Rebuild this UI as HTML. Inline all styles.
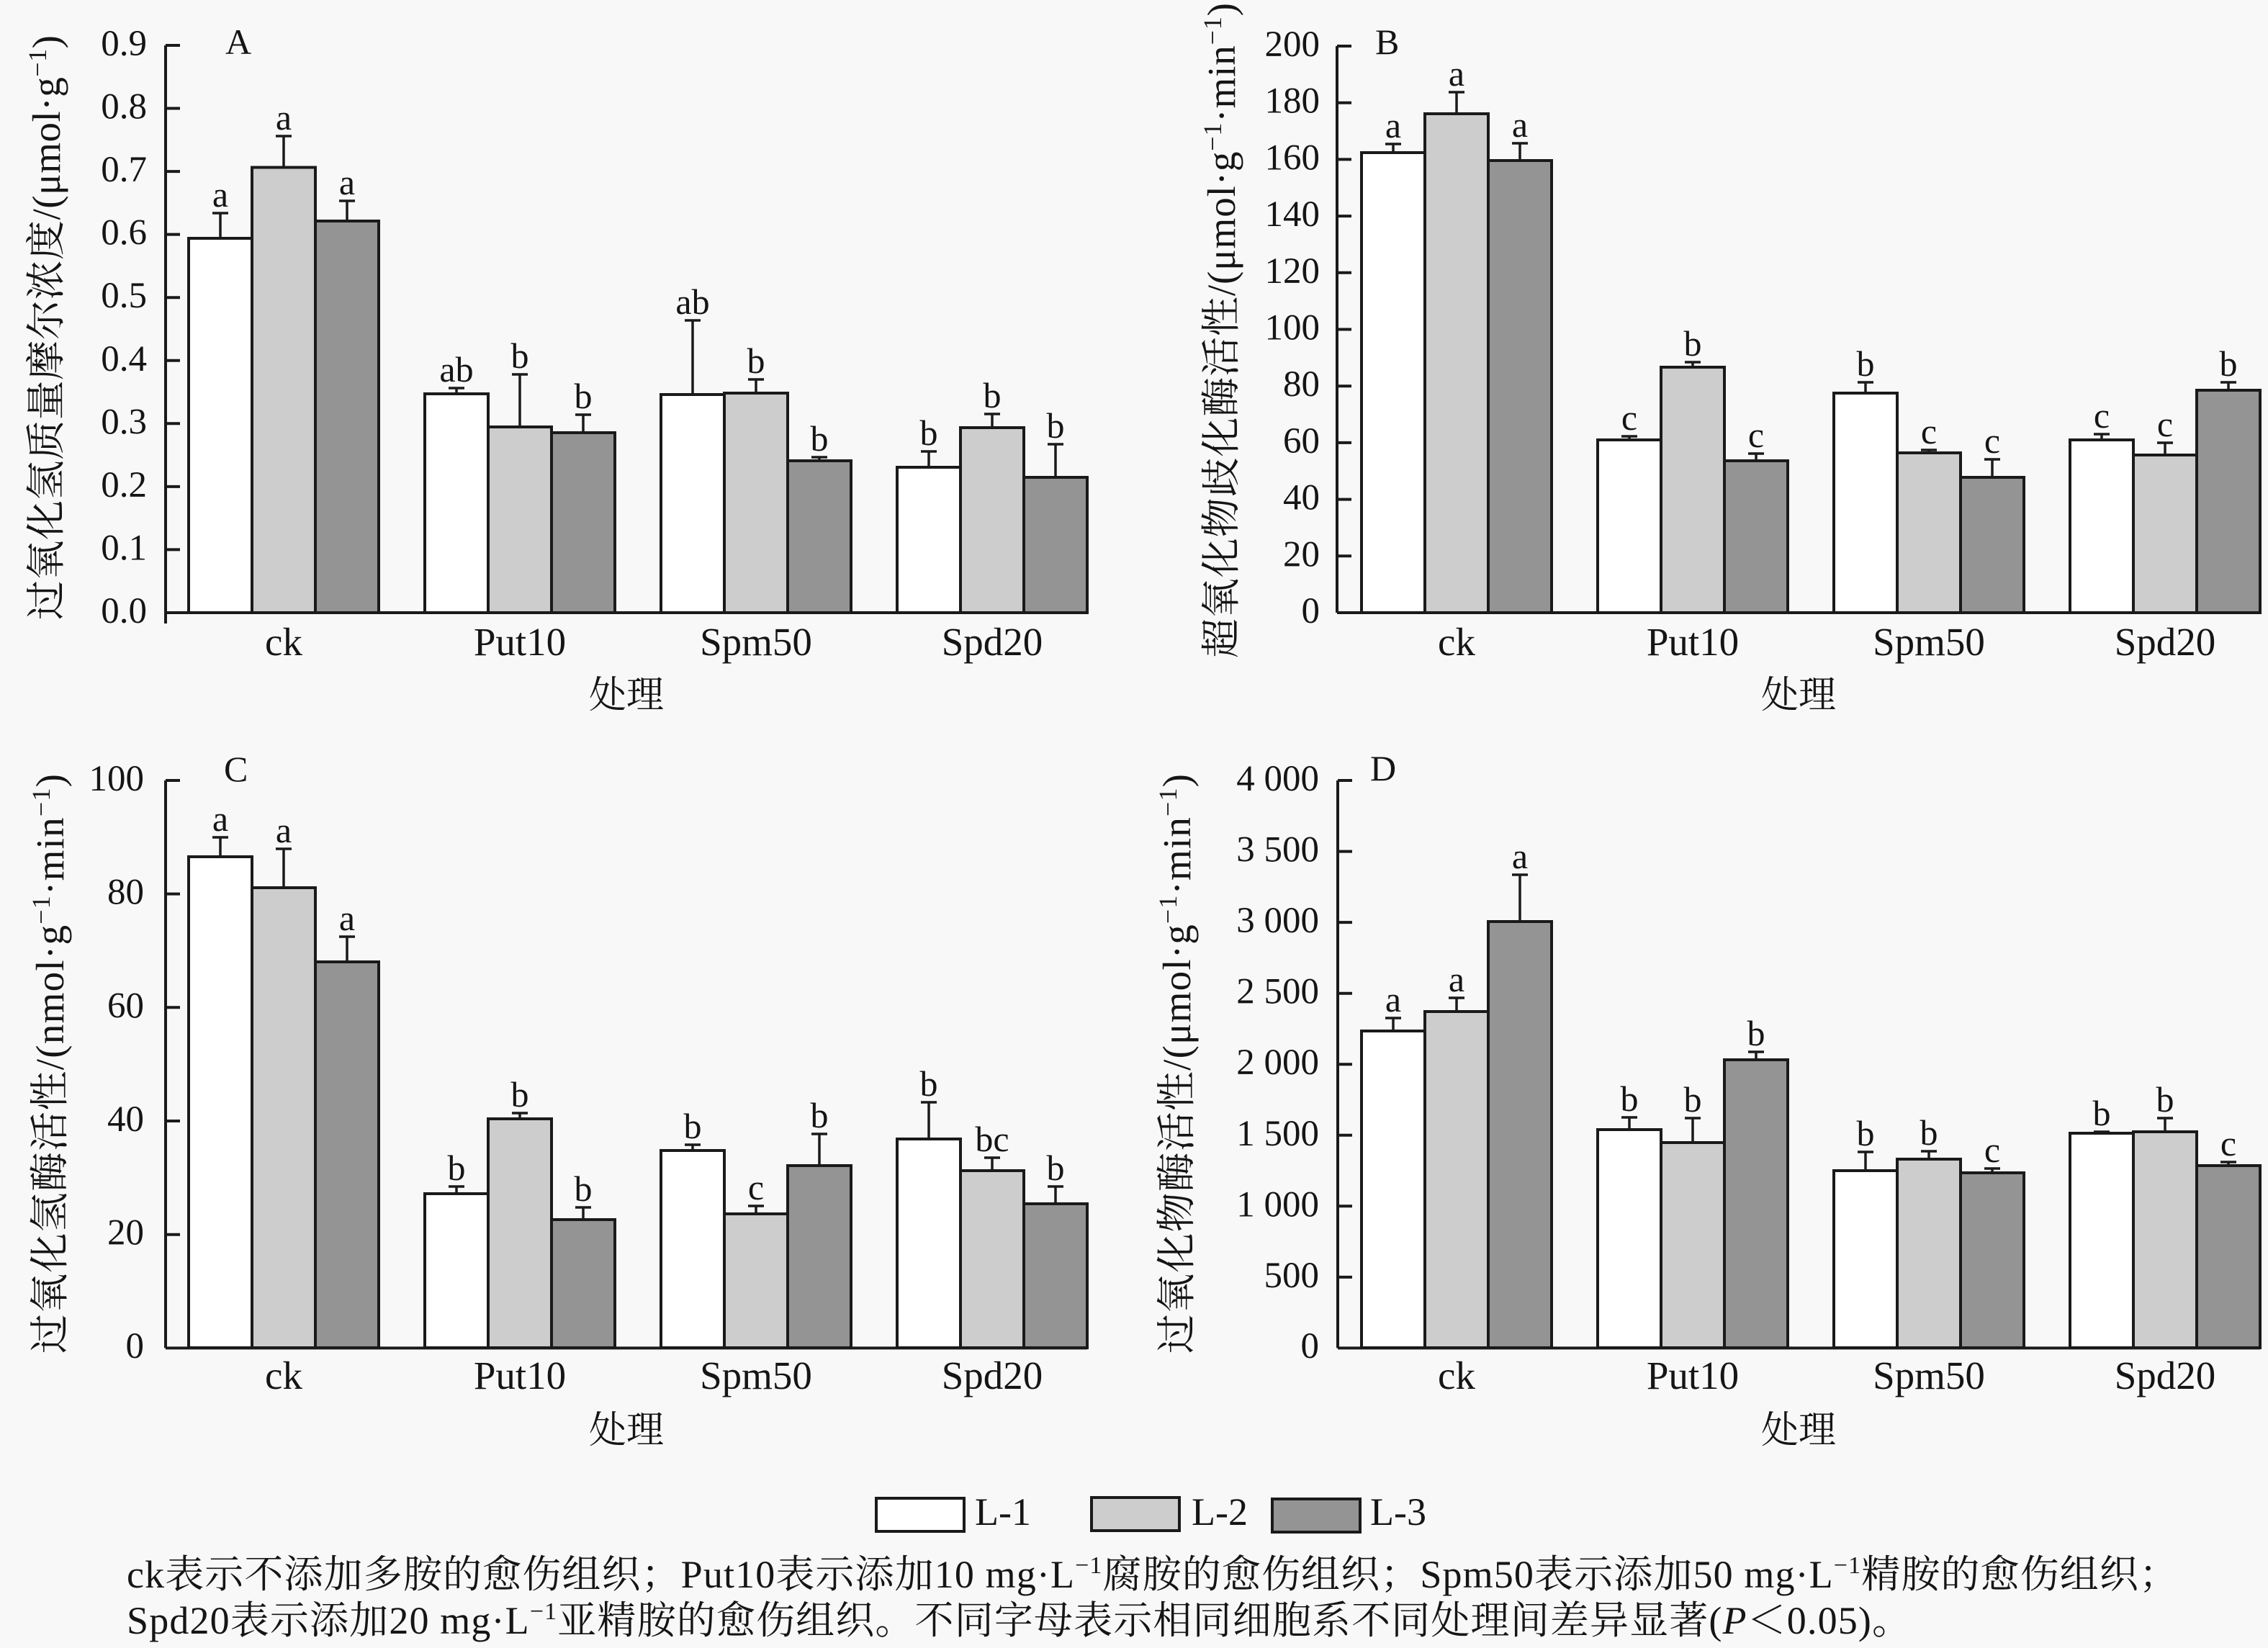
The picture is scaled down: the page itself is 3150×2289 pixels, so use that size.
<!DOCTYPE html>
<html><head><meta charset="utf-8"><style>
html,body{margin:0;padding:0;background:#f8f8f8;}
svg{display:block;}
text{font-family:"Liberation Serif","Noto Serif CJK SC",serif;fill:#151515;}
.tk{font-size:51px;text-anchor:end;}
.cat{font-size:55px;text-anchor:middle;}
.xl{font-size:52px;text-anchor:middle;}
.lt{font-size:50px;text-anchor:middle;}
.ti{font-size:50px;}
.yl{font-size:55px;}
.cap{font-size:54px;}
.w{fill:#ffffff;stroke:#1a1a1a;stroke-width:4;}
.l{fill:#cdcdcd;stroke:#1a1a1a;stroke-width:4;}
.d{fill:#949494;stroke:#1a1a1a;stroke-width:4;}
.ax{stroke:#1a1a1a;stroke-width:4;fill:none;}
.e{stroke:#1a1a1a;stroke-width:3.5;fill:none;}
</style></head><body>
<svg width="3150" height="2289" viewBox="0 0 3150 2289" xmlns="http://www.w3.org/2000/svg">
<rect x="0" y="0" width="3150" height="2289" fill="#f8f8f8"/>

<!-- ================= PANEL A ================= -->
<g>
<rect class="w" x="262" y="331" width="88" height="520"/>
<rect class="l" x="350" y="232.5" width="88" height="618.5"/>
<rect class="d" x="438" y="307" width="88" height="544"/>
<rect class="w" x="590" y="547" width="88" height="304"/>
<rect class="l" x="678" y="593" width="88" height="258"/>
<rect class="d" x="766" y="601" width="88" height="250"/>
<rect class="w" x="918" y="548" width="88" height="303"/>
<rect class="l" x="1006" y="546" width="88" height="305"/>
<rect class="d" x="1094" y="640" width="88" height="211"/>
<rect class="w" x="1246" y="649" width="88" height="202"/>
<rect class="l" x="1334" y="594" width="88" height="257"/>
<rect class="d" x="1422" y="663" width="88" height="188"/>
<path class="e" d="M306 331V296M295 296H317 M394 232V189M383 189H405 M482 307V279M471 279H493 M634 547V539M623 539H645 M722 593V520M711 520H733 M810 601V576M799 576H821 M962 548V445M951 445H973 M1050 546V527M1039 527H1061 M1138 640V635M1127 635H1149 M1290 649V627M1279 627H1301 M1378 594V575M1367 575H1389 M1466 663V617M1455 617H1477"/>
<text class="lt" x="306" y="287">a</text>
<text class="lt" x="394" y="180">a</text>
<text class="lt" x="482" y="270">a</text>
<text class="lt" x="634" y="530">ab</text>
<text class="lt" x="722" y="511">b</text>
<text class="lt" x="810" y="567">b</text>
<text class="lt" x="962" y="436">ab</text>
<text class="lt" x="1050" y="518">b</text>
<text class="lt" x="1138" y="626">b</text>
<text class="lt" x="1290" y="618">b</text>
<text class="lt" x="1378" y="566">b</text>
<text class="lt" x="1466" y="608">b</text>
<path class="ax" d="M230 63V866 M230 851H1510"/>
<path class="ax" d="M230 763.4H250 M230 675.9H250 M230 588.3H250 M230 500.8H250 M230 413.2H250 M230 325.6H250 M230 238.1H250 M230 150.5H250 M230 63H250"/>
<text class="tk" x="204" y="865">0.0</text>
<text class="tk" x="204" y="777.4">0.1</text>
<text class="tk" x="204" y="689.9">0.2</text>
<text class="tk" x="204" y="602.3">0.3</text>
<text class="tk" x="204" y="514.8">0.4</text>
<text class="tk" x="204" y="427.2">0.5</text>
<text class="tk" x="204" y="339.6">0.6</text>
<text class="tk" x="204" y="252.1">0.7</text>
<text class="tk" x="204" y="164.5">0.8</text>
<text class="tk" x="204" y="77">0.9</text>
<text class="ti" x="313" y="75">A</text>
<text class="cat" x="394" y="910">ck</text>
<text class="cat" x="722" y="910">Put10</text>
<text class="cat" x="1050" y="910">Spm50</text>
<text class="cat" x="1378" y="910">Spd20</text>
<text class="xl" x="870" y="983">处理</text>
<text class="yl" transform="translate(83,861) rotate(-90)" textLength="812" lengthAdjust="spacing">过氧化氢质量摩尔浓度/(μmol·g<tspan font-size="36" dy="-19">−1</tspan><tspan dy="19">)</tspan></text>
</g>

<!-- ================= PANEL B ================= -->
<g>
<rect class="w" x="1891" y="212" width="88" height="639"/>
<rect class="l" x="1979" y="158" width="88" height="693"/>
<rect class="d" x="2067" y="223" width="88" height="628"/>
<rect class="w" x="2219" y="611" width="88" height="240"/>
<rect class="l" x="2307" y="510" width="88" height="341"/>
<rect class="d" x="2395" y="640" width="88" height="211"/>
<rect class="w" x="2547" y="546" width="88" height="305"/>
<rect class="l" x="2635" y="629" width="88" height="222"/>
<rect class="d" x="2723" y="663" width="88" height="188"/>
<rect class="w" x="2875" y="611" width="88" height="240"/>
<rect class="l" x="2963" y="632" width="88" height="219"/>
<rect class="d" x="3051" y="542" width="88" height="309"/>
<path class="e" d="M1935 212V200M1924 200H1946 M2023 158V128M2012 128H2034 M2111 223V199M2100 199H2122 M2263 611V606M2252 606H2274 M2351 510V503M2340 503H2362 M2439 640V630M2428 630H2450 M2591 546V531M2580 531H2602 M2679 629V625M2668 625H2690 M2767 663V638M2756 638H2778 M2919 611V603M2908 603H2930 M3007 632V615M2996 615H3018 M3095 542V531M3084 531H3106"/>
<text class="lt" x="1935" y="191">a</text>
<text class="lt" x="2023" y="119">a</text>
<text class="lt" x="2111" y="190">a</text>
<text class="lt" x="2263" y="597">c</text>
<text class="lt" x="2351" y="494">b</text>
<text class="lt" x="2439" y="621">c</text>
<text class="lt" x="2591" y="522">b</text>
<text class="lt" x="2679" y="616">c</text>
<text class="lt" x="2767" y="629">c</text>
<text class="lt" x="2919" y="594">c</text>
<text class="lt" x="3007" y="606">c</text>
<text class="lt" x="3095" y="522">b</text>
<path class="ax" d="M1857 64V851 M1857 851H3139"/>
<path class="ax" d="M1857 772.3H1877 M1857 693.6H1877 M1857 614.9H1877 M1857 536.2H1877 M1857 457.5H1877 M1857 378.8H1877 M1857 300.1H1877 M1857 221.4H1877 M1857 142.7H1877 M1857 64H1877"/>
<text class="tk" x="1833" y="865">0</text>
<text class="tk" x="1833" y="786.3">20</text>
<text class="tk" x="1833" y="707.6">40</text>
<text class="tk" x="1833" y="628.9">60</text>
<text class="tk" x="1833" y="550.2">80</text>
<text class="tk" x="1833" y="471.5">100</text>
<text class="tk" x="1833" y="392.8">120</text>
<text class="tk" x="1833" y="314.1">140</text>
<text class="tk" x="1833" y="235.4">160</text>
<text class="tk" x="1833" y="156.7">180</text>
<text class="tk" x="1833" y="78">200</text>
<text class="ti" x="1910" y="75">B</text>
<text class="cat" x="2023" y="910">ck</text>
<text class="cat" x="2351" y="910">Put10</text>
<text class="cat" x="2679" y="910">Spm50</text>
<text class="cat" x="3007" y="910">Spd20</text>
<text class="xl" x="2498" y="983">处理</text>
<text class="yl" transform="translate(1715,914) rotate(-90)" textLength="910" lengthAdjust="spacing">超氧化物歧化酶活性/(μmol·g<tspan font-size="36" dy="-19">−1</tspan><tspan dy="19">·min</tspan><tspan font-size="36" dy="-19">−1</tspan><tspan dy="19">)</tspan></text>
</g>

<!-- ================= PANEL C ================= -->
<g>
<rect class="w" x="262" y="1190" width="88" height="682"/>
<rect class="l" x="350" y="1233" width="88" height="639"/>
<rect class="d" x="438" y="1336" width="88" height="536"/>
<rect class="w" x="590" y="1658" width="88" height="214"/>
<rect class="l" x="678" y="1554" width="88" height="318"/>
<rect class="d" x="766" y="1694" width="88" height="178"/>
<rect class="w" x="918" y="1598" width="88" height="274"/>
<rect class="l" x="1006" y="1686" width="88" height="186"/>
<rect class="d" x="1094" y="1619" width="88" height="253"/>
<rect class="w" x="1246" y="1582" width="88" height="290"/>
<rect class="l" x="1334" y="1626" width="88" height="246"/>
<rect class="d" x="1422" y="1672" width="88" height="200"/>
<path class="e" d="M306 1190V1163M295 1163H317 M394 1233V1179M383 1179H405 M482 1336V1301M471 1301H493 M634 1658V1648M623 1648H645 M722 1554V1546M711 1546H733 M810 1694V1677M799 1677H821 M962 1598V1590M951 1590H973 M1050 1686V1675M1039 1675H1061 M1138 1619V1575M1127 1575H1149 M1290 1582V1531M1279 1531H1301 M1378 1626V1608M1367 1608H1389 M1466 1672V1648M1455 1648H1477"/>
<text class="lt" x="306" y="1154">a</text>
<text class="lt" x="394" y="1170">a</text>
<text class="lt" x="482" y="1292">a</text>
<text class="lt" x="634" y="1639">b</text>
<text class="lt" x="722" y="1537">b</text>
<text class="lt" x="810" y="1668">b</text>
<text class="lt" x="962" y="1581">b</text>
<text class="lt" x="1050" y="1666">c</text>
<text class="lt" x="1138" y="1566">b</text>
<text class="lt" x="1290" y="1522">b</text>
<text class="lt" x="1378" y="1599">bc</text>
<text class="lt" x="1466" y="1639">b</text>
<path class="ax" d="M230 1084V1872.4 M230 1872.4H1510"/>
<path class="ax" d="M230 1714.7H250 M230 1557H250 M230 1399.3H250 M230 1241.6H250 M230 1084H250"/>
<text class="tk" x="200" y="1886">0</text>
<text class="tk" x="200" y="1728.7">20</text>
<text class="tk" x="200" y="1571">40</text>
<text class="tk" x="200" y="1413.3">60</text>
<text class="tk" x="200" y="1255.6">80</text>
<text class="tk" x="200" y="1098">100</text>
<text class="ti" x="311" y="1085">C</text>
<text class="cat" x="394" y="1929">ck</text>
<text class="cat" x="722" y="1929">Put10</text>
<text class="cat" x="1050" y="1929">Spm50</text>
<text class="cat" x="1378" y="1929">Spd20</text>
<text class="xl" x="870" y="2004">处理</text>
<text class="yl" transform="translate(88,1880) rotate(-90)" textLength="805" lengthAdjust="spacing">过氧化氢酶活性/(nmol·g<tspan font-size="36" dy="-19">−1</tspan><tspan dy="19">·min</tspan><tspan font-size="36" dy="-19">−1</tspan><tspan dy="19">)</tspan></text>
</g>

<!-- ================= PANEL D ================= -->
<g>
<rect class="w" x="1891" y="1432" width="88" height="440"/>
<rect class="l" x="1979" y="1405" width="88" height="467"/>
<rect class="d" x="2067" y="1280" width="88" height="592"/>
<rect class="w" x="2219" y="1569" width="88" height="303"/>
<rect class="l" x="2307" y="1587" width="88" height="285"/>
<rect class="d" x="2395" y="1472" width="88" height="400"/>
<rect class="w" x="2547" y="1626" width="88" height="246"/>
<rect class="l" x="2635" y="1610" width="88" height="262"/>
<rect class="d" x="2723" y="1629" width="88" height="243"/>
<rect class="w" x="2875" y="1574" width="88" height="298"/>
<rect class="l" x="2963" y="1572" width="88" height="300"/>
<rect class="d" x="3051" y="1619" width="88" height="253"/>
<path class="e" d="M1935 1432V1414M1924 1414H1946 M2023 1405V1386M2012 1386H2034 M2111 1280V1215M2100 1215H2122 M2263 1569V1552M2252 1552H2274 M2351 1587V1553M2340 1553H2362 M2439 1472V1461M2428 1461H2450 M2591 1626V1600M2580 1600H2602 M2679 1610V1599M2668 1599H2690 M2767 1629V1623M2756 1623H2778 M2919 1574V1572M2908 1572H2930 M3007 1572V1553M2996 1553H3018 M3095 1619V1614M3084 1614H3106"/>
<text class="lt" x="1935" y="1405">a</text>
<text class="lt" x="2023" y="1377">a</text>
<text class="lt" x="2111" y="1206">a</text>
<text class="lt" x="2263" y="1543">b</text>
<text class="lt" x="2351" y="1544">b</text>
<text class="lt" x="2439" y="1452">b</text>
<text class="lt" x="2591" y="1591">b</text>
<text class="lt" x="2679" y="1590">b</text>
<text class="lt" x="2767" y="1614">c</text>
<text class="lt" x="2919" y="1563">b</text>
<text class="lt" x="3007" y="1544">b</text>
<text class="lt" x="3095" y="1605">c</text>
<path class="ax" d="M1858 1084V1872.4 M1858 1872.4H3139"/>
<path class="ax" d="M1858 1773.9H1878 M1858 1675.3H1878 M1858 1576.8H1878 M1858 1478.2H1878 M1858 1379.7H1878 M1858 1281.1H1878 M1858 1182.6H1878 M1858 1084H1878"/>
<text class="tk" x="1832" y="1886">0</text>
<text class="tk" x="1832" y="1787.9">500</text>
<text class="tk" x="1832" y="1689.3">1 000</text>
<text class="tk" x="1832" y="1590.8">1 500</text>
<text class="tk" x="1832" y="1492.2">2 000</text>
<text class="tk" x="1832" y="1393.7">2 500</text>
<text class="tk" x="1832" y="1295.1">3 000</text>
<text class="tk" x="1832" y="1196.6">3 500</text>
<text class="tk" x="1832" y="1098">4 000</text>
<text class="ti" x="1903" y="1084">D</text>
<text class="cat" x="2023" y="1929">ck</text>
<text class="cat" x="2351" y="1929">Put10</text>
<text class="cat" x="2679" y="1929">Spm50</text>
<text class="cat" x="3007" y="1929">Spd20</text>
<text class="xl" x="2498" y="2004">处理</text>
<text class="yl" transform="translate(1653,1880) rotate(-90)" textLength="805" lengthAdjust="spacing">过氧化物酶活性/(μmol·g<tspan font-size="36" dy="-19">−1</tspan><tspan dy="19">·min</tspan><tspan font-size="36" dy="-19">−1</tspan><tspan dy="19">)</tspan></text>
</g>

<!-- ================= LEGEND ================= -->
<rect class="w" x="1217" y="2081" width="122" height="46"/>
<rect class="l" x="1516" y="2080" width="122" height="46"/>
<rect class="d" x="1767" y="2082" width="122" height="46"/>
<text class="cap" x="1354" y="2118">L-1</text>
<text class="cap" x="1655" y="2118">L-2</text>
<text class="cap" x="1903" y="2118">L-3</text>

<!-- ================= CAPTION ================= -->
<text class="cap" x="176" y="2205" textLength="2849" lengthAdjust="spacing">ck表示不添加多胺的愈伤组织；Put10表示添加10 mg·L<tspan font-size="34" dy="-20">−1</tspan><tspan dy="20">腐胺的愈伤组织；Spm50表示添加50 mg·L</tspan><tspan font-size="34" dy="-20">−1</tspan><tspan dy="20">精胺的愈伤组织；</tspan></text>
<text class="cap" x="176" y="2269" textLength="2478" lengthAdjust="spacing">Spd20表示添加20 mg·L<tspan font-size="34" dy="-20">−1</tspan><tspan dy="20">亚精胺的愈伤组织。不同字母表示相同细胞系不同处理间差异显著(</tspan><tspan font-style="italic">P</tspan><tspan>＜0.05)。</tspan></text>
</svg>
</body></html>
